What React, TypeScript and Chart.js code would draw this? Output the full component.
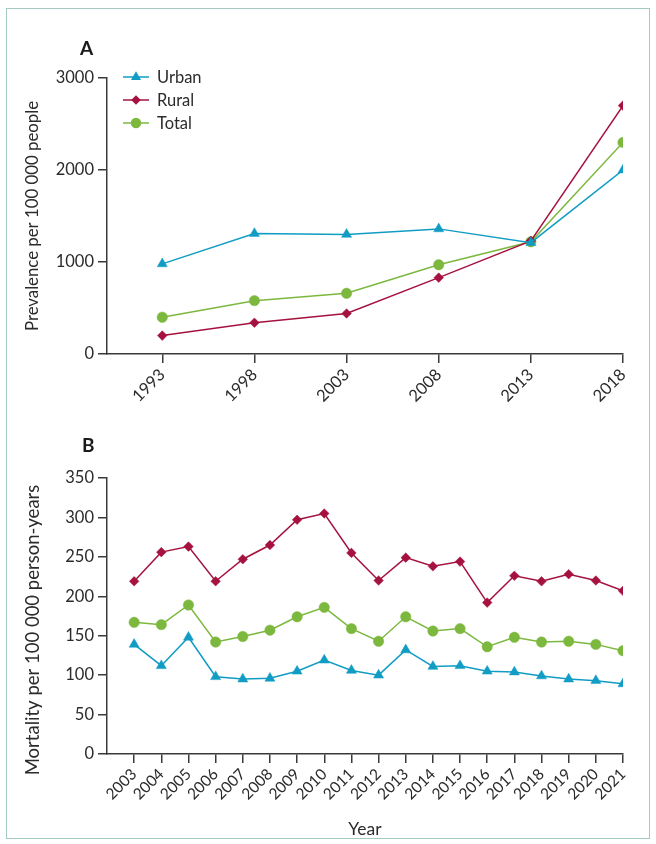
import React, { useEffect, useRef } from 'react';
import { Chart, registerables } from 'chart.js';

Chart.register(...registerables);

// ---- Data: Panel A (prevalence) ----
const prevYears = [1993, 1998, 2003, 2008, 2013, 2018];
const prevUrban = [980, 1310, 1300, 1360, 1210, 2000];
const prevRural = [200, 340, 440, 830, 1230, 2700];
const prevTotal = [400, 580, 660, 970, 1220, 2300];
const prevYTicks = [0, 1000, 2000, 3000];

// ---- Data: Panel B (mortality) ----
const mortYears = [2003, 2004, 2005, 2006, 2007, 2008, 2009, 2010, 2011, 2012, 2013, 2014, 2015, 2016, 2017, 2018, 2019, 2020, 2021];
const mortUrban = [139, 112, 148, 98, 95, 96, 105, 119, 106, 100, 132, 111, 112, 105, 104, 99, 95, 93, 89];
const mortRural = [219, 256, 263, 219, 247, 265, 297, 305, 255, 220, 249, 238, 244, 192, 226, 219, 228, 220, 207];
const mortTotal = [167, 164, 189, 142, 149, 157, 174, 186, 159, 143, 174, 156, 159, 136, 148, 142, 143, 139, 131];
const mortYTicks = [0, 50, 100, 150, 200, 250, 300, 350];

const seriesNames = ['Urban', 'Rural', 'Total'];

// ---- Styles ----
const FONT = 'Lato, "Open Sans", "DejaVu Sans", sans-serif';
const TEXT = '#2b2b2b';
const AXIS = '#3a3a3a';
const COLORS = ['#119cc4', '#a5123f', '#7cb83e'];
const STYLES: any[] = ['triangle', 'rectRot', 'circle'];
const RADII = [5.8, 4.8, 5.2];

function mkDatasets(xs: number[], series: number[][]) {
  return series.map((vals, i) => ({
    label: seriesNames[i],
    data: xs.map((x, j) => ({ x, y: vals[j] })),
    borderColor: COLORS[i],
    backgroundColor: COLORS[i],
    pointBackgroundColor: COLORS[i],
    pointBorderColor: COLORS[i],
    pointBorderWidth: 0.5,
    pointStyle: STYLES[i],
    pointRadius: RADII[i],
    borderWidth: 1.5,
    tension: 0,
  }));
}

function drawMarker(ctx: CanvasRenderingContext2D, style: string, x: number, y: number, r: number) {
  ctx.beginPath();
  if (style === 'triangle') {
    let rad = 0;
    ctx.moveTo(x + Math.sin(rad) * r, y - Math.cos(rad) * r);
    rad += (2 * Math.PI) / 3;
    ctx.lineTo(x + Math.sin(rad) * r, y - Math.cos(rad) * r);
    rad += (2 * Math.PI) / 3;
    ctx.lineTo(x + Math.sin(rad) * r, y - Math.cos(rad) * r);
    ctx.closePath();
  } else if (style === 'rectRot') {
    ctx.moveTo(x, y - r);
    ctx.lineTo(x + r, y);
    ctx.lineTo(x, y + r);
    ctx.lineTo(x - r, y);
    ctx.closePath();
  } else {
    ctx.arc(x, y, r, 0, Math.PI * 2);
  }
  ctx.fill();
}

const legendPlugin = {
  id: 'customLegend',
  afterDraw(chart: any) {
    const ctx: CanvasRenderingContext2D = chart.ctx;
    const x0 = 123;
    const x1 = 149;
    const ys = [77, 100, 123];
    ctx.save();
    chart.data.datasets.forEach((ds: any, i: number) => {
      const y = ys[i];
      ctx.strokeStyle = ds.borderColor;
      ctx.fillStyle = ds.borderColor;
      ctx.lineWidth = 1.5;
      ctx.beginPath();
      ctx.moveTo(x0, y);
      ctx.lineTo(x1, y);
      ctx.stroke();
      drawMarker(ctx, STYLES[i], (x0 + x1) / 2, y, RADII[i]);
      ctx.fillStyle = TEXT;
      ctx.font = `16.5px ${FONT}`;
      ctx.textBaseline = 'middle';
      ctx.textAlign = 'left';
      ctx.fillText(ds.label, 157, y + 1);
    });
    ctx.restore();
  },
};

function yTitlePlugin(text: string, cx: number, cy: number, size: number) {
  return {
    id: 'yTitle',
    afterDraw(chart: any) {
      const ctx: CanvasRenderingContext2D = chart.ctx;
      ctx.save();
      ctx.translate(cx, cy);
      ctx.rotate(-Math.PI / 2);
      ctx.fillStyle = TEXT;
      ctx.font = `${size}px ${FONT}`;
      ctx.textAlign = 'center';
      ctx.textBaseline = 'middle';
      ctx.fillText(text, 0, 0);
      ctx.restore();
    },
  };
}

function axisCommon() {
  return {
    border: { display: true, color: AXIS, width: 1.5 },
    grid: { display: true, drawOnChartArea: false, drawTicks: true, tickLength: 9, color: AXIS, lineWidth: 1.5 },
  };
}

function buildConfig(opts: {
  xs: number[];
  series: number[][];
  xMin: number;
  xMax: number;
  yTicks: number[];
  yTitle: any;
  xTitle?: string;
  padTop: number;
  xHeight: number;
  tickSize: number;
  legend: boolean;
}): any {
  const { xs, series, xMin, xMax, yTicks, yTitle, xTitle, padTop, xHeight, tickSize, legend } = opts;
  return {
    type: 'line',
    data: { datasets: mkDatasets(xs, series) },
    options: {
      animation: false,
      responsive: false,
      events: [],
      layout: { padding: { top: padTop, right: 33, left: 0, bottom: 0 } },
      plugins: { legend: { display: false }, tooltip: { enabled: false } },
      scales: {
        x: {
          type: 'linear',
          min: xMin,
          max: xMax,
          ...axisCommon(),
          afterBuildTicks: (s: any) => {
            s.ticks = xs.map((v) => ({ value: v }));
          },
          afterFit: (s: any) => {
            s.height = xHeight;
          },
          ticks: {
            autoSkip: false,
            maxRotation: 45,
            minRotation: 45,
            padding: 2,
            color: TEXT,
            font: { family: FONT, size: tickSize },
            callback: (v: any) => String(v),
          },
          title: xTitle
            ? { display: true, text: xTitle, color: TEXT, font: { family: FONT, size: 17.5 }, padding: { top: 0, bottom: 4 } }
            : { display: false },
        },
        y: {
          type: 'linear',
          min: yTicks[0],
          max: yTicks[yTicks.length - 1],
          ...axisCommon(),
          afterBuildTicks: (s: any) => {
            s.ticks = yTicks.map((v) => ({ value: v }));
          },
          afterFit: (s: any) => {
            s.width = 107;
          },
          ticks: {
            padding: 4,
            color: TEXT,
            font: { family: FONT, size: 16.5 },
            callback: (v: any) => String(v),
          },
          title: { display: false },
        },
      },
    },
    plugins: legend ? [legendPlugin, yTitle] : [yTitle],
  };
}

export default function App() {
  const refA = useRef<HTMLCanvasElement>(null);
  const refB = useRef<HTMLCanvasElement>(null);

  useEffect(() => {
    const a = new Chart(
      refA.current!,
      buildConfig({
        xs: prevYears,
        series: [prevUrban, prevRural, prevTotal],
        xMin: 1990,
        xMax: 2018,
        yTicks: prevYTicks,
        yTitle: yTitlePlugin('Prevalence per 100 000 people', 33, 216, 16.8),
        padTop: 78,
        xHeight: 420 - 354,
        tickSize: 16.5,
        legend: true,
      })
    );
    const b = new Chart(
      refB.current!,
      buildConfig({
        xs: mortYears,
        series: [mortUrban, mortRural, mortTotal],
        xMin: 2002,
        xMax: 2021,
        yTicks: mortYTicks,
        yTitle: yTitlePlugin('Mortality per 100 000 person-years', 33, 630 - 420, 18.5),
        xTitle: 'Year',
        padTop: 478 - 420,
        xHeight: 844 - 754,
        tickSize: 15.5,
        legend: false,
      })
    );
    return () => {
      a.destroy();
      b.destroy();
    };
  }, []);

  const label = (t: string, left: number, top: number): any => (
    <div
      style={{
        position: 'absolute',
        left,
        top,
        fontFamily: FONT,
        fontWeight: 700,
        fontSize: 19,
        lineHeight: '20px',
        color: '#1a1a1a',
      }}
    >
      {t}
    </div>
  );

  return (
    <div style={{ position: 'fixed', left: 0, top: 0, width: 656, height: 844, background: '#fff', overflow: 'hidden' }}>
      <div
        style={{
          position: 'absolute',
          left: 6,
          top: 8,
          width: 644,
          height: 831,
          border: '1.5px solid #a3cbc4',
          boxSizing: 'border-box',
        }}
      />
      <canvas ref={refA} width={656} height={420} style={{ position: 'absolute', left: 0, top: 0 }} />
      <canvas ref={refB} width={656} height={424} style={{ position: 'absolute', left: 0, top: 420 }} />
      {label('A', 80, 38)}
      {label('B', 82, 435)}
    </div>
  );
}
